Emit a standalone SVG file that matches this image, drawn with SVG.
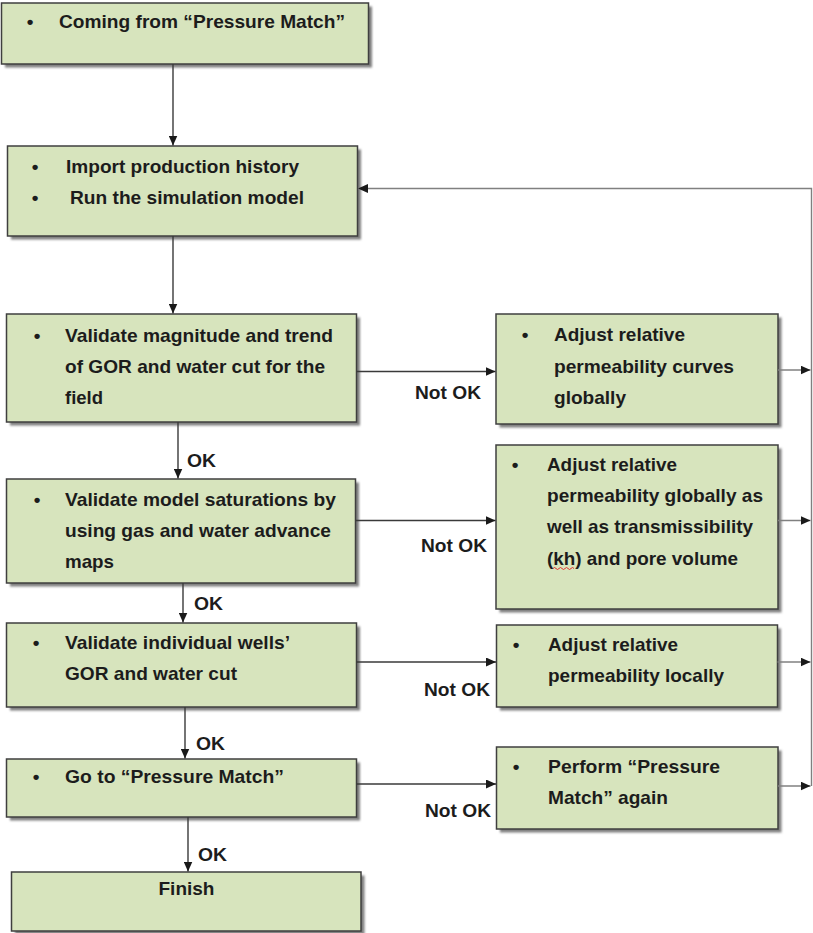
<svg xmlns="http://www.w3.org/2000/svg" width="813" height="933" viewBox="0 0 813 933">
  <style>
    .box { fill: #d7e4bd; stroke: #3f3f3f; stroke-width: 1.5; }
    .shadow { fill: #7f7f7f; filter: url(#soft); }
    .t { font-family: "Liberation Sans", Arial, sans-serif; font-weight: bold; font-size: 19px; fill: #1c1c1c; }
    .lbl { font-family: "Liberation Sans", Arial, sans-serif; font-weight: bold; font-size: 19px; fill: #1c1c1c; }
    .wire { fill: none; stroke: #3a3a3a; stroke-width: 1.4; }
    .loop { fill: none; stroke: #808080; stroke-width: 1.4; }
  </style>
  <defs>
    <filter id="soft" x="-5%" y="-5%" width="110%" height="110%">
      <feGaussianBlur stdDeviation="1.2"/>
    </filter>
    <marker id="head" markerUnits="userSpaceOnUse" markerWidth="10" markerHeight="9" refX="10" refY="4.5" orient="auto">
      <path d="M0,0 L10,4.5 L0,9 z" fill="#1a1a1a"/>
    </marker>
  </defs>

  <rect width="813" height="933" fill="#ffffff"/>

  <!-- main column -->
  <g id="start">
    <rect class="shadow" x="5" y="6.5" width="367" height="61"/>
    <rect class="box" x="1.5" y="3" width="367" height="61"/>
    <text class="t" x="30" y="28" text-anchor="middle">•</text>
    <text class="t" x="59" y="28" textLength="286" lengthAdjust="spacingAndGlyphs">Coming from “Pressure Match”</text>
  </g>

  <g id="import-run">
    <rect class="shadow" x="11" y="149.5" width="350" height="90"/>
    <rect class="box" x="7.5" y="146" width="350" height="90"/>
    <text class="t" x="35" y="173" text-anchor="middle">•</text>
    <text class="t" x="66" y="173" textLength="233" lengthAdjust="spacingAndGlyphs">Import production history</text>
    <text class="t" x="35" y="204" text-anchor="middle">•</text>
    <text class="t" x="70" y="204" textLength="234" lengthAdjust="spacingAndGlyphs">Run the simulation model</text>
  </g>

  <g id="validate-field">
    <rect class="shadow" x="10" y="317.5" width="350" height="108"/>
    <rect class="box" x="6.5" y="314" width="350" height="108"/>
    <text class="t" x="37" y="341.5" text-anchor="middle">•</text>
    <text class="t" x="65" y="341.5" textLength="268" lengthAdjust="spacingAndGlyphs">Validate magnitude and trend</text>
    <text class="t" x="65" y="373" textLength="260" lengthAdjust="spacingAndGlyphs">of GOR and water cut for the</text>
    <text class="t" x="65" y="403.5" textLength="38" lengthAdjust="spacingAndGlyphs">field</text>
  </g>

  <g id="validate-saturations">
    <rect class="shadow" x="10" y="482.5" width="349" height="104"/>
    <rect class="box" x="6.5" y="479" width="349" height="104"/>
    <text class="t" x="37" y="505.5" text-anchor="middle">•</text>
    <text class="t" x="65" y="505.5" textLength="271" lengthAdjust="spacingAndGlyphs">Validate model saturations by</text>
    <text class="t" x="65" y="536.5" textLength="266" lengthAdjust="spacingAndGlyphs">using gas and water advance</text>
    <text class="t" x="65" y="567.5" textLength="49" lengthAdjust="spacingAndGlyphs">maps</text>
  </g>

  <g id="validate-wells">
    <rect class="shadow" x="10" y="626.5" width="350" height="84"/>
    <rect class="box" x="6.5" y="623" width="350" height="84"/>
    <text class="t" x="36" y="648.5" text-anchor="middle">•</text>
    <text class="t" x="65" y="648.5" textLength="225" lengthAdjust="spacingAndGlyphs">Validate individual wells’</text>
    <text class="t" x="65" y="679.5" textLength="172" lengthAdjust="spacingAndGlyphs">GOR and water cut</text>
  </g>

  <g id="goto-pressure">
    <rect class="shadow" x="10" y="762.5" width="350" height="58"/>
    <rect class="box" x="6.5" y="759" width="350" height="58"/>
    <text class="t" x="36" y="782.5" text-anchor="middle">•</text>
    <text class="t" x="65" y="782.5" textLength="219" lengthAdjust="spacingAndGlyphs">Go to “Pressure Match”</text>
  </g>

  <g id="finish">
    <rect class="shadow" x="15" y="875.5" width="349.5" height="59"/>
    <rect class="box" x="11.5" y="872" width="349.5" height="59"/>
    <text class="t" x="186.5" y="894.5" text-anchor="middle" textLength="56" lengthAdjust="spacingAndGlyphs">Finish</text>
  </g>

  <!-- corrective actions -->
  <g id="adjust-global">
    <rect class="shadow" x="499.5" y="317.5" width="282" height="110"/>
    <rect class="box" x="496" y="314" width="282" height="110"/>
    <text class="t" x="525" y="340.5" text-anchor="middle">•</text>
    <text class="t" x="554" y="340.5" textLength="131" lengthAdjust="spacingAndGlyphs">Adjust relative</text>
    <text class="t" x="554" y="372.5" textLength="180" lengthAdjust="spacingAndGlyphs">permeability curves</text>
    <text class="t" x="554" y="403.5" textLength="72" lengthAdjust="spacingAndGlyphs">globally</text>
  </g>

  <g id="adjust-global-kh">
    <rect class="shadow" x="499.5" y="448.5" width="282" height="164"/>
    <rect class="box" x="496" y="445" width="282" height="164"/>
    <text class="t" x="515" y="470.5" text-anchor="middle">•</text>
    <text class="t" x="547" y="470.5" textLength="130" lengthAdjust="spacingAndGlyphs">Adjust relative</text>
    <text class="t" x="547" y="501.5" textLength="216" lengthAdjust="spacingAndGlyphs">permeability globally as</text>
    <text class="t" x="547" y="533" textLength="206" lengthAdjust="spacingAndGlyphs">well as transmissibility</text>
    <text class="t" x="547" y="565" textLength="191" lengthAdjust="spacingAndGlyphs">(kh) and pore volume</text>
    <path d="M553,568.5 q1.5,-2 3,0 t3,0 t3,0 t3,0 t3,0 t3,0 t3,0" fill="none" stroke="#e02020" stroke-width="0.9"/>
  </g>

  <g id="adjust-local">
    <rect class="shadow" x="500" y="628.5" width="281" height="82"/>
    <rect class="box" x="496.5" y="625" width="281" height="82"/>
    <text class="t" x="516" y="651" text-anchor="middle">•</text>
    <text class="t" x="548" y="651" textLength="130" lengthAdjust="spacingAndGlyphs">Adjust relative</text>
    <text class="t" x="548" y="682" textLength="176" lengthAdjust="spacingAndGlyphs">permeability locally</text>
  </g>

  <g id="redo-pressure">
    <rect class="shadow" x="500" y="750.5" width="281.5" height="82"/>
    <rect class="box" x="496.5" y="747" width="281.5" height="82"/>
    <text class="t" x="516" y="772.5" text-anchor="middle">•</text>
    <text class="t" x="548" y="772.5" textLength="172" lengthAdjust="spacingAndGlyphs">Perform “Pressure</text>
    <text class="t" x="548" y="803.5" textLength="120" lengthAdjust="spacingAndGlyphs">Match” again</text>
  </g>

  <!-- connectors -->
  <g id="connectors">
    <path class="wire" d="M173,64 V145.5" marker-end="url(#head)"/>
    <path class="wire" d="M173,236 V313.5" marker-end="url(#head)"/>
    <path class="wire" d="M178,422 V478.5" marker-end="url(#head)"/>
    <path class="wire" d="M183,583 V622.5" marker-end="url(#head)"/>
    <path class="wire" d="M185,707 V758.5" marker-end="url(#head)"/>
    <path class="wire" d="M188,817 V871.5" marker-end="url(#head)"/>

    <path class="wire" d="M356.5,371.5 H495.5" marker-end="url(#head)"/>
    <path class="wire" d="M355.5,520.5 H495.5" marker-end="url(#head)"/>
    <path class="wire" d="M356.5,662 H496" marker-end="url(#head)"/>
    <path class="wire" d="M356.5,784 H496" marker-end="url(#head)"/>

    <path class="loop" d="M778,370 H810.5" marker-end="url(#head)"/>
    <path class="loop" d="M778,520.5 H810.5" marker-end="url(#head)"/>
    <path class="loop" d="M777.5,662 H810.5" marker-end="url(#head)"/>
    <path class="loop" d="M778,786 H810.5" marker-end="url(#head)"/>
    <path class="loop" d="M811.5,786 V188.5 H358" marker-end="url(#head)"/>

    <text class="lbl" x="415" y="399" textLength="66" lengthAdjust="spacingAndGlyphs">Not OK</text>
    <text class="lbl" x="421" y="551.5" textLength="66" lengthAdjust="spacingAndGlyphs">Not OK</text>
    <text class="lbl" x="424" y="695.5" textLength="66" lengthAdjust="spacingAndGlyphs">Not OK</text>
    <text class="lbl" x="425" y="816.5" textLength="66" lengthAdjust="spacingAndGlyphs">Not OK</text>

    <text class="lbl" x="187" y="467" textLength="29" lengthAdjust="spacingAndGlyphs">OK</text>
    <text class="lbl" x="194" y="610" textLength="29" lengthAdjust="spacingAndGlyphs">OK</text>
    <text class="lbl" x="196" y="750" textLength="29" lengthAdjust="spacingAndGlyphs">OK</text>
    <text class="lbl" x="198" y="861" textLength="29" lengthAdjust="spacingAndGlyphs">OK</text>
  </g>
</svg>
